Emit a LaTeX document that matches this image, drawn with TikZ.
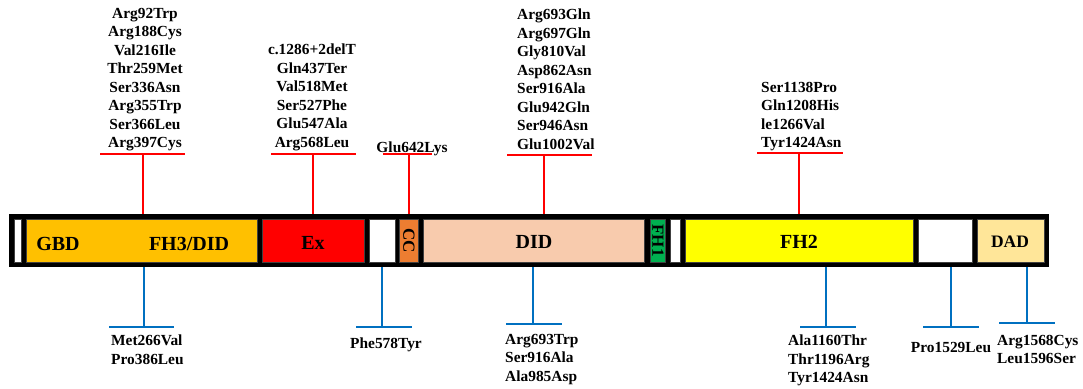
\documentclass[tikz,border=0pt]{standalone}
\usepackage{fontspec}
\setmainfont{Liberation Serif}
\definecolor{cgbd}{HTML}{FFC000}
\definecolor{cex}{HTML}{FF0000}
\definecolor{ccc}{HTML}{ED7D31}
\definecolor{cdid}{HTML}{F8CBAD}
\definecolor{cfh1}{HTML}{00B050}
\definecolor{cfh2}{HTML}{FFFF00}
\definecolor{cdad}{HTML}{FFE699}
\definecolor{cred}{HTML}{FF0000}
\definecolor{cblue}{HTML}{0070C0}
\begin{document}
\begin{tikzpicture}[x=1pt,y=-1pt,
  seg/.style={draw=black!75,line width=0.6pt,inner sep=0pt,minimum height=43pt},
  dom/.style={font=\fontsize{20}{22}\selectfont\bfseries,inner sep=0pt},
  mut/.style={font=\fontsize{15.4}{18.5}\selectfont\bfseries,inner sep=0pt},
  redl/.style={draw=cred,line width=2.8pt},
  bluel/.style={draw=cblue,line width=2.6pt}]
\useasboundingbox (0,0) rectangle (1083,388);
% backbone
\node[fill=black,inner sep=0pt,minimum width=1040pt,minimum height=53pt] (bar) at (529,240.5) {};
\node[seg,fill=white,minimum width=7pt] (w0) at (17.5,240.5) {};
\node[seg,fill=cgbd,minimum width=231pt] (gbd) at (141.5,240.5) {};
\node[seg,fill=cex,minimum width=102pt] (ex) at (313,240.5) {};
\node[seg,fill=white,minimum width=26pt] (w1) at (382,240.5) {};
\node[seg,fill=ccc,minimum width=19pt] (cc) at (408.5,240.5) {};
\node[seg,fill=cdid,minimum width=221pt] (did) at (533.5,240.5) {};
\node[seg,fill=cfh1,minimum width=15pt] (fh1) at (657.5,240.5) {};
\node[seg,fill=white,minimum width=10pt] (w2) at (675,240.5) {};
\node[seg,fill=cfh2,minimum width=228pt] (fh2) at (799,240.5) {};
\node[seg,fill=white,minimum width=54pt] (w3) at (945,240.5) {};
\node[seg,fill=cdad,minimum width=67pt] (dad) at (1010.5,240.5) {};
% domain labels
\node[dom] (lgbd) at (58,244) {GBD};
\node[dom] (lfh3) at (189,244) {FH3/DID};
\node[dom] (lex) at (313,243) {Ex};
\node[dom,font=\fontsize{17}{19}\selectfont\bfseries,rotate=-90] (lcc) at (409,240.5) {CC};
\node[dom] (ldid) at (534,242) {DID};
\node[dom,font=\fontsize{17}{19}\selectfont\bfseries,rotate=-90] (lfh1) at (658,240.5) {FH1};
\node[dom] (lfh2) at (799,242) {FH2};
\node[dom,font=\fontsize{17.5}{19}\selectfont\bfseries] (ldad) at (1010,242) {DAD};
% top mutation labels
\node[mut,align=center,anchor=north] (m1) at (145,7.7) {Arg92Trp\\Arg188Cys\\Val216Ile\\Thr259Met\\Ser336Asn\\Arg355Trp\\Ser366Leu\\Arg397Cys};
\node[mut,align=center,anchor=north] (m2) at (312,43.7) {c.1286+2delT\\Gln437Ter\\Val518Met\\Ser527Phe\\Glu547Ala\\Arg568Leu};
\node[mut,anchor=base] (m3) at (412,152) {Glu642Lys};
\node[mut,align=left,anchor=north west] (m4) at (517,8.7) {Arg693Gln\\Arg697Gln\\Gly810Val\\Asp862Asn\\Ser916Ala\\Glu942Gln\\Ser946Asn\\Glu1002Val};
\node[mut,align=left,anchor=north west] (m5) at (761,81.7) {Ser1138Pro\\Gln1208His\\le1266Val\\Tyr1424Asn};
% bottom mutation labels
\node[mut,align=left,anchor=north west] (b1) at (111,334.7) {Met266Val\\Pro386Leu};
\node[mut,anchor=base] (b2) at (386,348) {Phe578Tyr};
\node[mut,align=left,anchor=north west] (b3) at (505,333.7) {Arg693Trp\\Ser916Ala\\Ala985Asp};
\node[mut,align=left,anchor=north west] (b4) at (788,334.7) {Ala1160Thr\\Thr1196Arg\\Tyr1424Asn};
\node[mut,anchor=base] (b5) at (951,352) {Pro1529Leu};
\node[mut,align=left,anchor=north west] (b6) at (997,334.7) {Arg1568Cys\\Leu1596Ser};
% red markers (top)
\coordinate (r1a) at (100,154); \coordinate (r1b) at (185,154); \coordinate (r1t) at (143,154); \coordinate (r1s) at (143,214);
\coordinate (r2a) at (271,154); \coordinate (r2b) at (356,154); \coordinate (r2t) at (313,154); \coordinate (r2s) at (313,214);
\coordinate (r3a) at (383,154); \coordinate (r3b) at (432,154); \coordinate (r3t) at (409,154); \coordinate (r3s) at (409,214);
\coordinate (r4a) at (507,155); \coordinate (r4b) at (592,155); \coordinate (r4t) at (544,155); \coordinate (r4s) at (544,214);
\coordinate (r5a) at (757,153); \coordinate (r5b) at (843,153); \coordinate (r5t) at (799,153); \coordinate (r5s) at (799,214);
\foreach \i in {1,...,5}{
  \draw[redl] (r\i a) -- (r\i b);
  \draw[redl] (r\i t) -- (r\i s);
}
% blue markers (bottom)
\coordinate (u1a) at (109,327); \coordinate (u1b) at (174,327); \coordinate (u1t) at (144,327); \coordinate (u1s) at (144,267);
\coordinate (u2a) at (356,327); \coordinate (u2b) at (412,327); \coordinate (u2t) at (382,327); \coordinate (u2s) at (382,267);
\coordinate (u3a) at (506,324); \coordinate (u3b) at (562,324); \coordinate (u3t) at (533,324); \coordinate (u3s) at (533,267);
\coordinate (u4a) at (800,327); \coordinate (u4b) at (856,327); \coordinate (u4t) at (826,327); \coordinate (u4s) at (826,267);
\coordinate (u5a) at (923,327); \coordinate (u5b) at (979,327); \coordinate (u5t) at (951,327); \coordinate (u5s) at (951,267);
\coordinate (u6a) at (999,323); \coordinate (u6b) at (1055,323); \coordinate (u6t) at (1027,323); \coordinate (u6s) at (1027,267);
\foreach \i in {1,...,6}{
  \draw[bluel] (u\i a) -- (u\i b);
  \draw[bluel] (u\i t) -- (u\i s);
}
\end{tikzpicture}
\end{document}
